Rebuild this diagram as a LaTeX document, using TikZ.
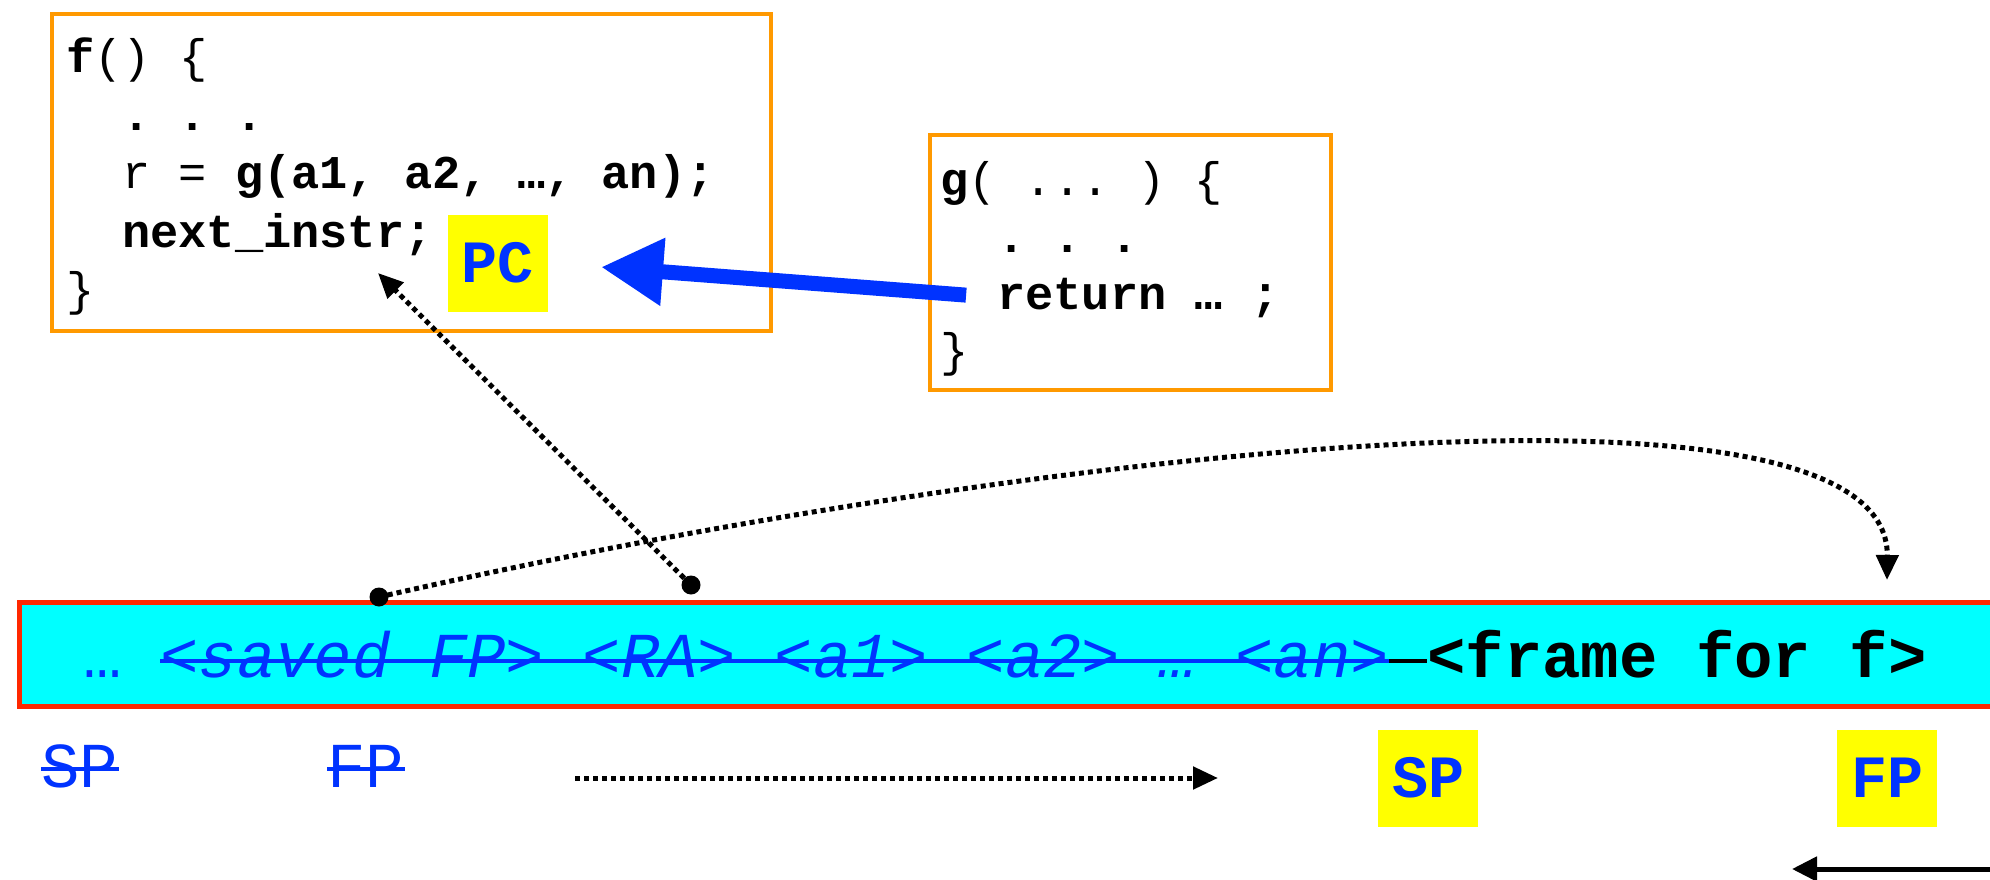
\documentclass[tikz,border=0pt]{standalone}
\usepackage{fontspec}
\setmonofont{Liberation Mono}
\usetikzlibrary{arrows.meta}
\definecolor{frameorange}{RGB}{255,153,0}
\definecolor{stackred}{RGB}{255,40,0}
\definecolor{stackcyan}{RGB}{0,255,255}
\definecolor{regyellow}{RGB}{255,255,0}
\definecolor{regblue}{RGB}{0,51,255}

\begin{document}
\begin{tikzpicture}[x=1pt, y=-1pt,
    codebox/.style={rectangle, draw=frameorange, line width=4pt, inner sep=0pt},
    code/.style={font=\fontsize{47}{57}\selectfont\ttfamily, anchor=base west, inner sep=0pt},
    reg/.style={rectangle, fill=regyellow, text=regblue, font=\fontsize{60}{60}\selectfont\ttfamily\bfseries, minimum width=100pt, minimum height=97pt, inner sep=0pt},
    slot/.style={font=\fontsize{64}{64}\selectfont\ttfamily, anchor=base west, inner sep=0pt},
    gone/.style={font=\fontsize{64}{64}\selectfont\ttfamily, text=regblue, anchor=base, inner sep=0pt},
    strike/.style={regblue, line width=4pt},
    dot/.style={circle, fill=black, inner sep=0pt, minimum size=19pt},
    dotarr/.style={-{Triangle[length=25pt, width=22pt]}, line width=5pt, dash pattern=on 5pt off 4pt},
    retarrow/.style={regblue, line width=15pt, -{Triangle[length=62pt, width=64pt]}, shorten <=31pt, shorten >=53pt}
]
\useasboundingbox[fill=white] (0,0) rectangle (1990,880);

% code of f and g
\node[codebox, minimum width=719pt, minimum height=317pt] (fbox) at (411.5,172.5) {};
\node[code] (f1) at (66,73) {\textbf{f}() \{};
\node[code] (f2) at (122,131) {\textbf{. . .}};
\node[code] (f3) at (122,189) {r = \textbf{g(a1, a2, …, an);}};
\node[code] (f4) at (122,247) {\textbf{next\_instr;}};
\node[code] (f5) at (66,305) {\}};

\node[codebox, minimum width=401pt, minimum height=255pt] (gbox) at (1130.5,262.5) {};
\node[code] (g1) at (940,195) {\textbf{g}( ... ) \{};
\node[code] (g2) at (997,252) {\textbf{. . .}};
\node[code] (g3) at (997,309) {\textbf{return … ;}};
\node[code] (g4) at (940,366) {\}};

\node[reg] (pc) at (498,263) {PC};

% the stack
\node[rectangle, draw=stackred, fill=stackcyan, line width=5pt, minimum width=2200pt, minimum height=104pt, anchor=west] (stack) at (17,654) {};
\node[slot, text=regblue] (ell) at (83,677) {…};
\node[slot, text=regblue, font=\fontsize{64}{64}\selectfont\ttfamily\itshape] (args) at (160,677) {<saved FP> <RA> <a1> <a2> … <an>};
\node[slot, font=\fontsize{64}{64}\selectfont\ttfamily\bfseries] (frm) at (1427,677) {<frame for f>};
\draw[strike] ([yshift=16pt]args.base west) -- ([yshift=16pt]args.base east);
\draw[line width=4pt] ([yshift=16pt]args.base east) -- ([yshift=16pt]frm.base west);

% old and new registers
\node[gone] (oldsp) at (80,787) {SP};
\node[gone] (oldfp) at (366,787) {FP};
\draw[strike] ([yshift=18pt]oldsp.base west) -- ([yshift=18pt]oldsp.base east);
\draw[strike] ([yshift=18pt]oldfp.base west) -- ([yshift=18pt]oldfp.base east);
\node[reg] (sp) at (1428,778) {SP};
\node[reg] (fp) at (1887,778) {FP};

% links
\node[dot] (sfp) at (379,597) {};
\node[dot] (ra) at (691,585) {};
\coordinate (nxt) at (378,273);
\coordinate (ftop) at (1887,580);
\coordinate (mvfrom) at (575,778);
\coordinate (mvto) at (1218,778);
\coordinate (grow) at (2000,869);
\coordinate (growto) at (1792,869);

\draw[retarrow] (g3.west) -- (pc.east);
\draw[dotarr] (ra) -- (nxt);
\draw[dotarr] (sfp.center) .. controls (1000,455) and (1890,350) .. (ftop);
\draw[dotarr] (mvfrom) -- (mvto);
\draw[line width=5pt, -{Triangle[length=25pt, width=24pt]}] (grow) -- (growto);
\end{tikzpicture}
\end{document}
